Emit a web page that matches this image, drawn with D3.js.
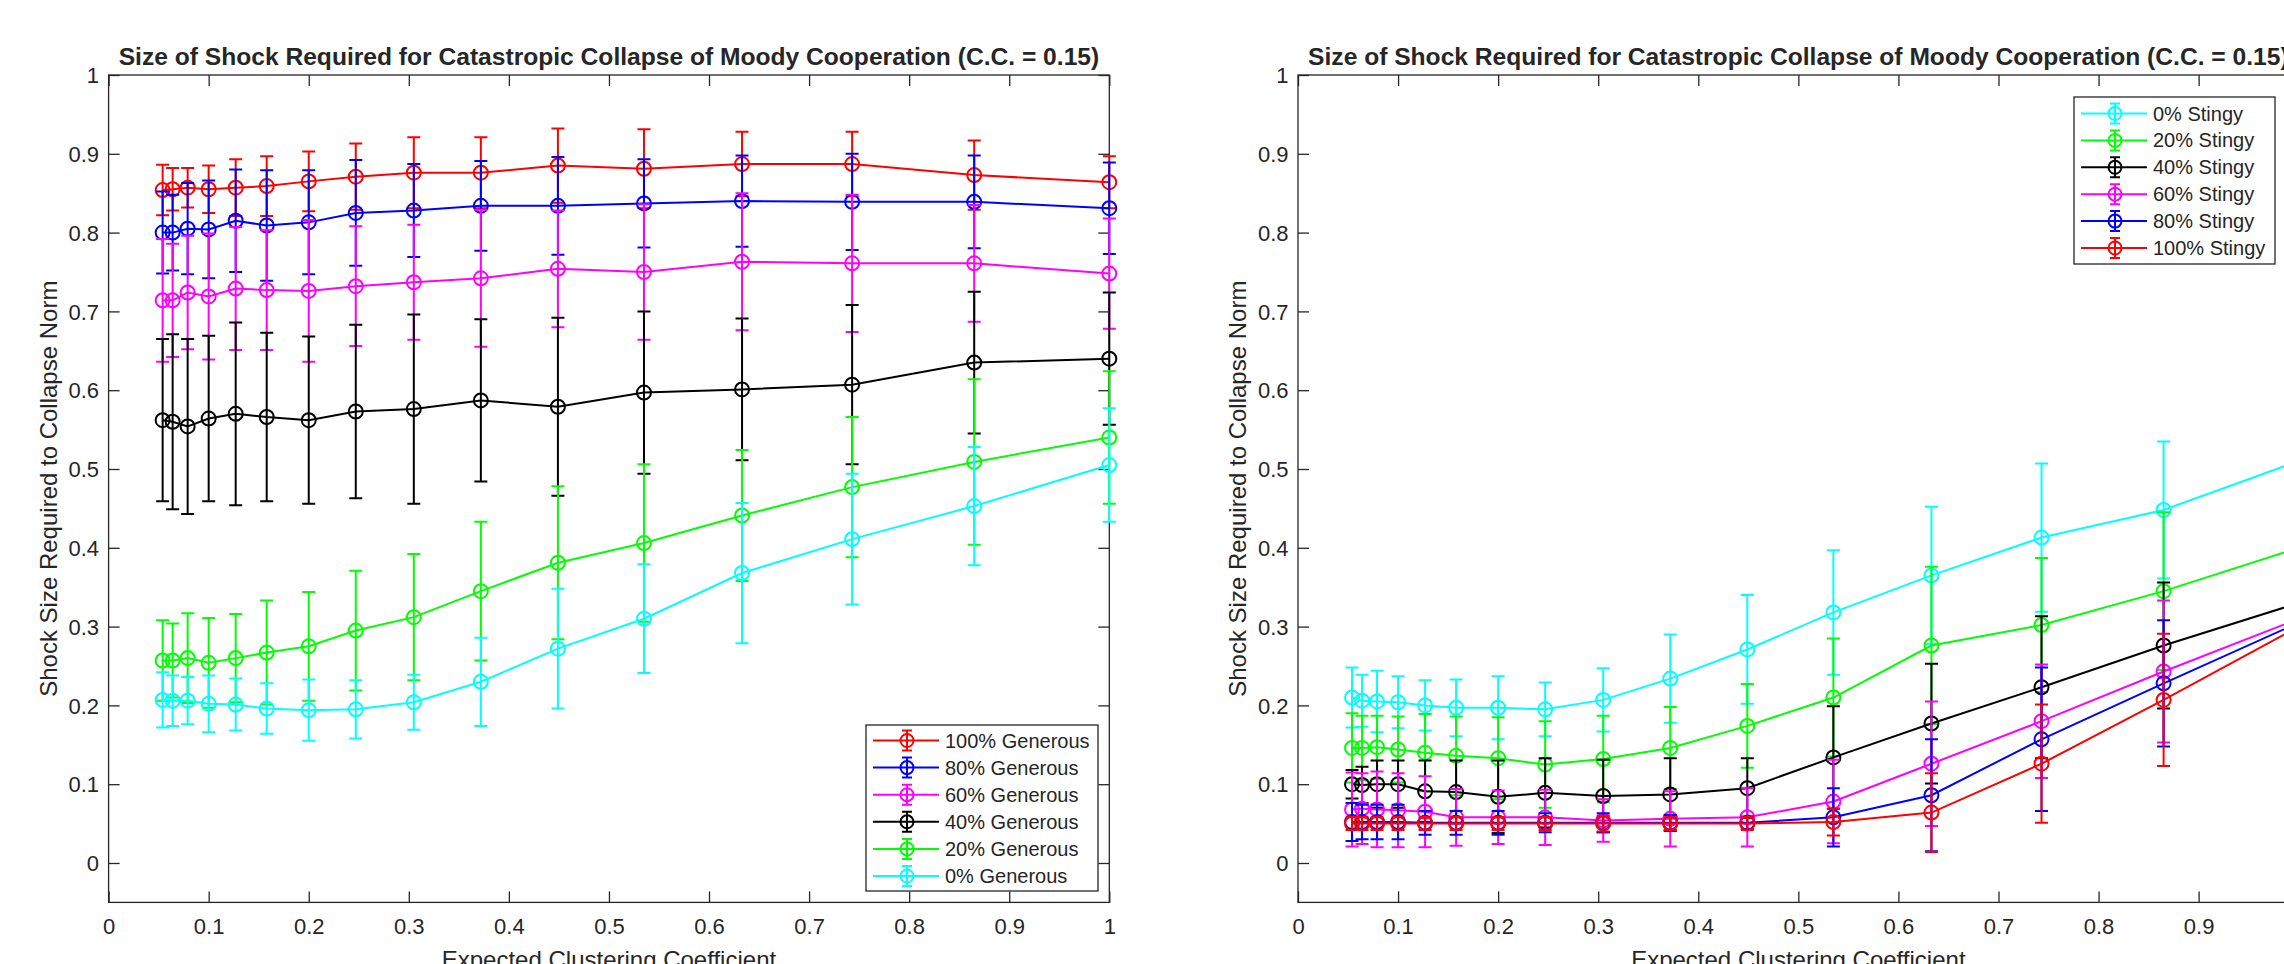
<!DOCTYPE html>
<html>
<head>
<meta charset="utf-8">
<script src="https://cdn.jsdelivr.net/npm/d3@7/dist/d3.min.js"></script>
<style>
  body { margin: 0; background: #fff; }
  svg text { font-family: "Liberation Sans", Arial, Helvetica, sans-serif; fill: #262626; }
</style>
</head>
<body>
<div id="chart"></div>
<script>
// expected clustering coefficient (same x for every series)
var clustering = [0.054, 0.064, 0.079, 0.1, 0.127, 0.158, 0.2, 0.247, 0.305, 0.372, 0.449, 0.535, 0.633, 0.743, 0.865, 1.0];

var xTicks = [0, 0.1, 0.2, 0.3, 0.4, 0.5, 0.6, 0.7, 0.8, 0.9, 1];
var yTicks = [0, 0.1, 0.2, 0.3, 0.4, 0.5, 0.6, 0.7, 0.8, 0.9, 1];

// left panel: generous
var genLabels = ["100% Generous", "80% Generous", "60% Generous", "40% Generous", "20% Generous", "0% Generous"];
var genColors = ["#ff0000", "#0000ff", "#ff00ff", "#000000", "#00ff00", "#00ffff"];
var gen100 = [0.854, 0.855, 0.857, 0.855, 0.857, 0.859, 0.865, 0.871, 0.876, 0.876, 0.885, 0.881, 0.887, 0.887, 0.873, 0.864];
var gen100Err = [0.032, 0.027, 0.025, 0.030, 0.036, 0.038, 0.038, 0.042, 0.045, 0.045, 0.047, 0.050, 0.041, 0.041, 0.044, 0.033];
var gen80 = [0.800, 0.800, 0.805, 0.804, 0.815, 0.809, 0.813, 0.825, 0.828, 0.834, 0.834, 0.837, 0.840, 0.839, 0.839, 0.831];
var gen80Err = [0.052, 0.048, 0.058, 0.062, 0.065, 0.070, 0.066, 0.067, 0.059, 0.057, 0.062, 0.056, 0.058, 0.061, 0.059, 0.058];
var gen60 = [0.714, 0.714, 0.724, 0.719, 0.729, 0.727, 0.726, 0.732, 0.737, 0.742, 0.754, 0.750, 0.763, 0.761, 0.761, 0.748];
var gen60Err = [0.078, 0.072, 0.072, 0.080, 0.078, 0.076, 0.090, 0.076, 0.073, 0.087, 0.074, 0.086, 0.087, 0.087, 0.074, 0.070];
var gen40 = [0.562, 0.560, 0.554, 0.564, 0.570, 0.566, 0.562, 0.573, 0.576, 0.587, 0.579, 0.597, 0.601, 0.607, 0.635, 0.640];
var gen40Err = [0.103, 0.111, 0.111, 0.105, 0.116, 0.107, 0.106, 0.110, 0.120, 0.103, 0.113, 0.103, 0.090, 0.101, 0.090, 0.084];
var gen20 = [0.257, 0.257, 0.260, 0.254, 0.260, 0.267, 0.275, 0.295, 0.312, 0.345, 0.381, 0.406, 0.441, 0.477, 0.509, 0.540];
var gen20Err = [0.051, 0.047, 0.057, 0.057, 0.056, 0.066, 0.069, 0.076, 0.080, 0.088, 0.097, 0.100, 0.083, 0.089, 0.105, 0.084];
var gen0 = [0.207, 0.206, 0.206, 0.202, 0.201, 0.196, 0.194, 0.195, 0.204, 0.230, 0.272, 0.310, 0.368, 0.411, 0.453, 0.505];
var gen0Err = [0.035, 0.032, 0.030, 0.036, 0.033, 0.032, 0.039, 0.037, 0.035, 0.056, 0.076, 0.069, 0.089, 0.083, 0.075, 0.072];

// right panel: stingy
var stgLabels = ["0% Stingy", "20% Stingy", "40% Stingy", "60% Stingy", "80% Stingy", "100% Stingy"];
var stgColors = ["#00ffff", "#00ff00", "#000000", "#ff00ff", "#0000ff", "#ff0000"];
var stg0 = [0.210, 0.206, 0.205, 0.204, 0.200, 0.197, 0.197, 0.195, 0.207, 0.234, 0.271, 0.318, 0.365, 0.413, 0.448, 0.510];
var stg0Err = [0.038, 0.033, 0.039, 0.033, 0.032, 0.036, 0.040, 0.034, 0.040, 0.056, 0.069, 0.079, 0.087, 0.094, 0.087, 0.090];
var stg20 = [0.146, 0.146, 0.147, 0.144, 0.140, 0.136, 0.133, 0.125, 0.132, 0.146, 0.174, 0.210, 0.276, 0.302, 0.345, 0.400];
var stg20Err = [0.044, 0.041, 0.040, 0.042, 0.049, 0.050, 0.052, 0.055, 0.055, 0.052, 0.053, 0.075, 0.100, 0.085, 0.100, 0.100];
var stg40 = [0.100, 0.099, 0.100, 0.100, 0.091, 0.090, 0.084, 0.089, 0.085, 0.087, 0.095, 0.134, 0.177, 0.223, 0.276, 0.330];
var stg40Err = [0.018, 0.023, 0.030, 0.030, 0.039, 0.040, 0.046, 0.044, 0.046, 0.046, 0.038, 0.065, 0.076, 0.090, 0.080, 0.080];
var stg60 = [0.068, 0.069, 0.068, 0.067, 0.065, 0.058, 0.058, 0.058, 0.054, 0.056, 0.058, 0.078, 0.126, 0.180, 0.243, 0.310];
var stg60Err = [0.047, 0.045, 0.048, 0.047, 0.045, 0.036, 0.034, 0.035, 0.027, 0.035, 0.037, 0.053, 0.079, 0.072, 0.090, 0.090];
var stg80 = [0.052, 0.052, 0.052, 0.052, 0.051, 0.051, 0.051, 0.051, 0.051, 0.051, 0.051, 0.058, 0.086, 0.157, 0.228, 0.305];
var stg80Err = [0.024, 0.022, 0.022, 0.022, 0.015, 0.015, 0.015, 0.012, 0.012, 0.010, 0.008, 0.037, 0.071, 0.091, 0.080, 0.080];
var stg100 = [0.050, 0.050, 0.050, 0.050, 0.050, 0.050, 0.050, 0.050, 0.050, 0.050, 0.050, 0.052, 0.064, 0.126, 0.207, 0.300];
var stg100Err = [0.008, 0.008, 0.008, 0.008, 0.008, 0.008, 0.008, 0.008, 0.010, 0.008, 0.008, 0.017, 0.050, 0.075, 0.084, 0.080];

var titleText = "Size of Shock Required for Catastropic Collapse of Moody Cooperation (C.C. = 0.15)";
var xLabelText = "Expected Clustering Coefficient";
var yLabelText = "Shock Size Required to Collapse Norm";

var W = 2284, H = 964;
var axisColor = "#262626";

var svg = d3.select("#chart").append("svg")
  .attr("width", W)
  .attr("height", H)
  .style("display", "block");

svg.append("rect").attr("width", W).attr("height", H).attr("fill", "#fff");

var yScale = d3.scaleLinear().domain([-0.05, 1]).range([902.4, 75]);

function fmt(d) {
  if (d === 0) return "0";
  if (d === 1) return "1";
  return d.toFixed(1);
}

//draws one subplot; series given in plotting order
function drawPanel(left, right, means, errs, colors, labels, legendBox) {
  var xScale = d3.scaleLinear().domain([0, 1]).range([left, right]);
  var g = svg.append("g");
  var top = yScale(1), bottom = yScale(-0.05);

  // axes with inward ticks
  var bx = g.append("g").attr("transform", "translate(0," + bottom + ")")
    .call(d3.axisBottom(xScale).tickValues(xTicks).tickFormat(fmt)
      .tickSizeInner(-11).tickSizeOuter(0).tickPadding(16));
  var tx = g.append("g").attr("transform", "translate(0," + top + ")")
    .call(d3.axisTop(xScale).tickValues(xTicks).tickFormat("")
      .tickSizeInner(-11).tickSizeOuter(0));
  var ly = g.append("g").attr("transform", "translate(" + left + ",0)")
    .call(d3.axisLeft(yScale).tickValues(yTicks).tickFormat(fmt)
      .tickSizeInner(-11).tickSizeOuter(0).tickPadding(9.5));
  var ry = g.append("g").attr("transform", "translate(" + right + ",0)")
    .call(d3.axisRight(yScale).tickValues(yTicks).tickFormat("")
      .tickSizeInner(-11).tickSizeOuter(0));
  [bx, tx, ly, ry].forEach(function(a) {
    a.select(".domain").remove();
    a.selectAll("line").attr("stroke", axisColor).attr("stroke-width", 1.3);
    a.selectAll("text").attr("fill", axisColor).style("font-size", "22px")
      .attr("font-family", "Liberation Sans, Arial, sans-serif");
  });
  ly.selectAll("text").attr("dy", "0.35em");

  g.append("rect")
    .attr("x", left).attr("y", top)
    .attr("width", right - left).attr("height", bottom - top)
    .attr("fill", "none").attr("stroke", axisColor).attr("stroke-width", 1.3);

  var line = d3.line()
    .x(function(d) { return xScale(d[0]); })
    .y(function(d) { return yScale(d[1]); });

  var capHalf = 6.5;
  means.forEach(function(m, s) {
    var col = colors[s];
    var pts = clustering.map(function(x, i) { return [x, m[i], errs[s][i]]; });
    var sg = g.append("g").attr("stroke", col).attr("fill", "none").attr("stroke-width", 2);
    // error bars
    sg.selectAll(".eb").data(pts).enter().append("path")
      .attr("d", function(d) {
        var cx = xScale(d[0]);
        var y1 = yScale(d[1] + d[2]), y2 = yScale(d[1] - d[2]);
        return "M" + cx + "," + y1 + "V" + y2 +
          "M" + (cx - capHalf) + "," + y1 + "H" + (cx + capHalf) +
          "M" + (cx - capHalf) + "," + y2 + "H" + (cx + capHalf);
      });
    sg.append("path").attr("d", line(pts));
    sg.selectAll("circle").data(pts).enter().append("circle")
      .attr("cx", function(d) { return xScale(d[0]); })
      .attr("cy", function(d) { return yScale(d[1]); })
      .attr("r", 7);
  });

  // title and axis labels
  g.append("text")
    .attr("x", (left + right) / 2).attr("y", 65)
    .attr("text-anchor", "middle")
    .style("font-size", "24.6px").style("font-weight", "bold")
    .attr("fill", "#000")
    .text(titleText);
  g.append("text")
    .attr("x", (left + right) / 2).attr("y", 968)
    .attr("text-anchor", "middle")
    .style("font-size", "24px")
    .text(xLabelText);
  g.append("text")
    .attr("transform", "translate(" + (left - 52) + "," + ((top + bottom) / 2) + ") rotate(-90)")
    .attr("text-anchor", "middle")
    .style("font-size", "24px")
    .text(yLabelText);

  // legend
  var lg = g.append("g");
  lg.append("rect")
    .attr("x", legendBox.x).attr("y", legendBox.y)
    .attr("width", legendBox.w).attr("height", legendBox.h)
    .attr("fill", "#fff").attr("stroke", axisColor).attr("stroke-width", 1.3);
  labels.forEach(function(lab, s) {
    var cy = legendBox.firstRow + s * legendBox.step;
    var x0 = legendBox.x + 7, x1 = legendBox.x + 73, cx = legendBox.x + 41;
    var row = lg.append("g").attr("stroke", colors[s]).attr("fill", "none").attr("stroke-width", 2);
    row.append("path").attr("d", "M" + x0 + "," + cy + "H" + x1);
    row.append("path").attr("d",
      "M" + cx + "," + (cy - 10) + "V" + (cy + 10) +
      "M" + (cx - 5) + "," + (cy - 10) + "H" + (cx + 5) +
      "M" + (cx - 5) + "," + (cy + 10) + "H" + (cx + 5));
    row.append("circle").attr("cx", cx).attr("cy", cy).attr("r", 6.5);
    lg.append("text")
      .attr("x", legendBox.x + 79).attr("y", cy).attr("dy", "0.35em")
      .style("font-size", "20px").attr("fill", "#000")
      .text(lab);
  });
}

drawPanel(108.6, 1109.3,
  [gen100, gen80, gen60, gen40, gen20, gen0],
  [gen100Err, gen80Err, gen60Err, gen40Err, gen20Err, gen0Err],
  genColors, genLabels,
  { x: 866, y: 725, w: 232, h: 166, firstRow: 740.5, step: 27.1 });

drawPanel(1298, 2298.7,
  [stg0, stg20, stg40, stg60, stg80, stg100],
  [stg0Err, stg20Err, stg40Err, stg60Err, stg80Err, stg100Err],
  stgColors, stgLabels,
  { x: 2074, y: 97, w: 201, h: 167, firstRow: 113.5, step: 26.9 });
</script>
</body>
</html>
